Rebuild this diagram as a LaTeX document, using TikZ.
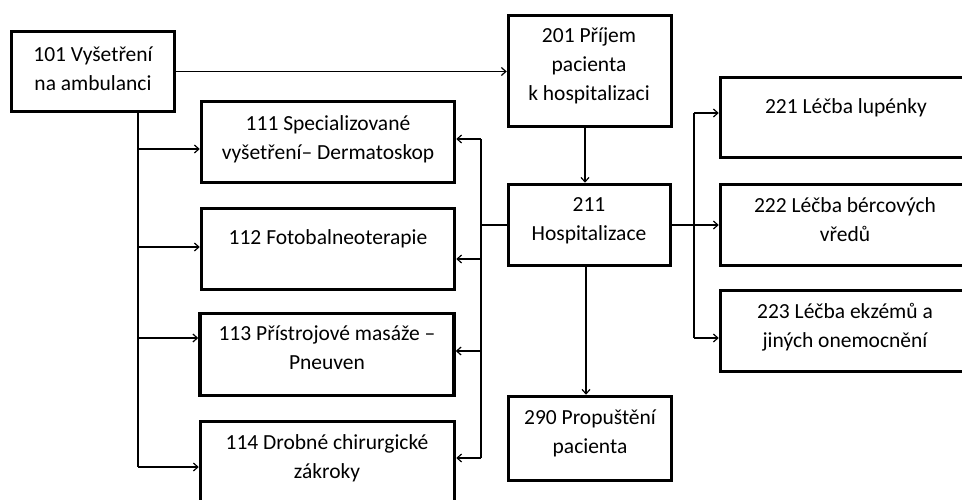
\documentclass[tikz,border=0pt]{standalone}
\usepackage{fontspec}
\setmainfont{Carlito}
\usetikzlibrary{arrows.meta}

\tikzset{
  box/.style={draw=black, line width=3.5pt, rectangle, inner sep=0pt, fill=white},
  txt/.style={align=center, inner sep=0pt, font=\fontsize{21.5}{29}\selectfont},
  link/.style={draw=black, line width=1.3pt},
  arr/.style={link, -{Straight Barb[length=4.5pt,width=8pt,line width=1.2pt]}},
}

\begin{document}
\begin{tikzpicture}[x=1pt, y=-1pt]
\useasboundingbox (0,0) rectangle (962,500);
\clip (0,0) rectangle (962,500);
\fill[white] (0,0) rectangle (962,500);

% boxes
\node[box, minimum width=163, minimum height=80]  (b101) at (93,71.5) {};
\node[box, minimum width=163, minimum height=111] (b201) at (590,71) {};
\node[box, minimum width=253, minimum height=81]  (b111) at (328,142) {};
\node[box, minimum width=253, minimum height=81]  (b112) at (328,249) {};
\node[box, minimum width=254, minimum height=82]  (b113) at (327,354.5) {};
\node[box, minimum width=254, minimum height=82]  (b114) at (327.5,462.5) {};
\node[box, minimum width=162, minimum height=81]  (b211) at (589.5,225) {};
\node[box, minimum width=163, minimum height=84]  (b290) at (590,438.5) {};
\node[box, minimum width=251, minimum height=80]  (b221) at (846,117.5) {};
\node[box, minimum width=251, minimum height=81]  (b222) at (846,225) {};
\node[box, minimum width=251, minimum height=81]  (b223) at (846,331) {};

% labels
\node[txt] (t101) at (93,69) {101 Vyšetření\\na ambulanci};
\node[txt] (t201) at (589,66) {201 Příjem\\pacienta\\k hospitalizaci};
\node[txt] (t111) at (328,139) {111 Specializované\\vyšetření– Dermatoskop};
\node[txt] (t112) at (328,239) {112 Fotobalneoterapie};
\node[txt] (t113) at (327,348) {113 Přístrojové masáže –\\Pneuven};
\node[txt] (t114) at (327,458) {114 Drobné chirurgické\\zákroky};
\node[txt] (t211) at (589,221) {211\\Hospitalizace};
\node[txt] (t290) at (590,433) {290 Propuštění\\pacienta};
\node[txt] (t221) at (846,108) {221 Léčba lupénky};
\node[txt] (t222) at (845,220) {222 Léčba bércových\\vředů};
\node[txt] (t223) at (845,327) {223 Léčba ekzémů a\\jiných onemocnění};

% trunk coordinates
\coordinate (L) at (138,0);
\coordinate (R) at (481,0);
\coordinate (S) at (694,0);
\coordinate (l111) at (138,149);
\coordinate (l112) at (138,247);
\coordinate (l113) at (138,338);
\coordinate (l114) at (138,467);
\coordinate (r111) at (481,139);
\coordinate (r112) at (481,259);
\coordinate (r113) at (481,351);
\coordinate (r114) at (481,458);
\coordinate (s221) at (694,113);
\coordinate (s223) at (694,338);
\coordinate (d1) at (585,0);
\coordinate (d2) at (586,0);

% 101 -> 201
\draw[arr] (b101.east) -- (b101.east -| b201.west);

% 101 -> 111..114
\draw[link] (b101.south -| L) -- (l114);
\draw[arr] (l111) -- (l111 -| b111.west);
\draw[arr] (l112) -- (l112 -| b112.west);
\draw[arr] (l113) -- (l113 -| b113.west);
\draw[arr] (l114) -- (l114 -| b114.west);

% 201 -> 211 -> 290
\draw[arr] (b201.south -| d1) -- (b211.north -| d1);
\draw[arr] (b211.south -| d2) -- (b290.north -| d2);

% 211 -> 111..114
\draw[link] (b211.west) -- (b211.west -| R);
\draw[link] (r111) -- (r114);
\draw[arr] (r111) -- (r111 -| b111.east);
\draw[arr] (r112) -- (r112 -| b112.east);
\draw[arr] (r113) -- (r113 -| b113.east);
\draw[arr] (r114) -- (r114 -| b114.east);

% 211 -> 221..223
\draw[arr] (b211.east) -- (b211.east -| b222.west);
\draw[link] (s221) -- (s223);
\draw[arr] (s221) -- (s221 -| b221.west);
\draw[arr] (s223) -- (s223 -| b223.west);
\end{tikzpicture}
\end{document}
